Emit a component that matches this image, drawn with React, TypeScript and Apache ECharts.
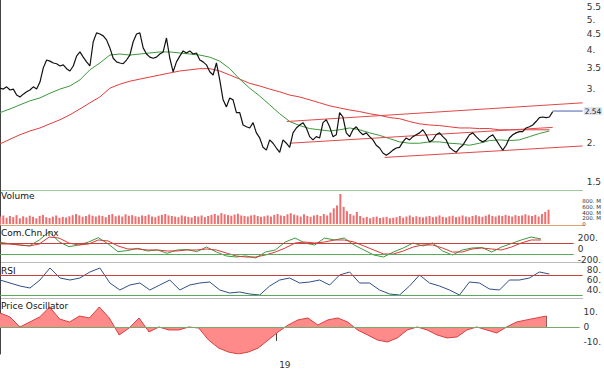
import React, { useEffect, useRef } from 'react';
import * as echarts from 'echarts';

// ---- data (bar index = one sample of the price line) ----
const closes = [3.01,2.99,3.04,2.97,2.99,2.86,2.82,2.88,2.93,2.97,
3.04,2.99,3.15,3.50,3.71,3.68,3.63,3.61,3.55,3.58,
3.48,3.42,3.55,3.82,3.94,3.79,3.66,3.55,4.25,4.54,
4.50,4.44,4.31,4.06,3.76,3.66,3.63,3.61,3.71,3.85,
4.25,4.50,4.54,4.06,3.88,3.79,3.76,3.79,3.88,3.94,
4.37,3.76,3.40,3.66,3.82,3.97,3.91,3.97,3.88,3.91,
3.71,3.66,3.58,3.40,3.32,3.63,3.20,2.76,2.62,2.80,
2.76,2.51,2.51,2.29,2.26,2.24,2.33,2.16,2.08,1.94,
1.90,2.05,2.00,1.93,1.87,2.05,2.00,1.94,2.16,2.24,
2.29,2.33,2.24,2.10,2.05,2.10,2.08,2.33,2.38,2.26,
2.10,2.13,2.51,2.43,2.16,2.10,2.21,2.26,2.18,2.13,
2.16,2.10,2.05,1.97,1.93,1.86,1.83,1.86,1.90,1.93,
1.94,2.02,2.08,2.05,2.10,2.13,2.16,2.21,2.13,2.02,
2.05,2.13,2.16,2.10,2.05,1.94,1.90,1.87,1.93,1.97,
2.05,2.13,2.16,2.10,2.05,2.02,2.05,2.10,2.13,2.05,
1.97,1.90,1.97,2.08,2.13,2.16,2.18,2.18,2.24,2.26,
2.29,2.35,2.42,2.43,2.42,2.43,2.53];

const volumeM = [260,300,220,280,240,310,200,270,230,290,
250,200,280,320,240,210,260,300,220,250,
230,270,310,350,300,250,280,330,290,260,
300,280,240,320,350,270,300,260,340,290,
310,270,250,300,280,330,260,240,290,320,
350,300,280,260,240,300,270,250,230,280,
260,300,240,280,320,350,300,380,340,310,
290,330,360,300,280,260,300,320,280,250,
270,300,260,320,350,300,280,340,380,330,
300,260,340,280,250,300,320,280,350,300,
400,550,650,1050,600,450,350,300,420,280,
220,250,200,240,260,210,230,250,200,220,
240,280,220,260,300,240,270,250,230,260,
280,240,260,300,250,230,270,290,240,260,
300,260,240,280,310,270,250,290,330,280,
260,300,280,320,290,260,310,280,300,340,
300,280,320,260,350,420,500];

// indicators sampled every STEP bars
const STEP = 3;
const maShort = [2.51,2.58,2.66,2.74,2.80,2.90,2.99,3.06,3.20,3.45,
3.63,3.85,3.88,3.85,3.88,3.91,3.94,3.94,3.91,3.88,
3.85,3.79,3.68,3.48,3.22,3.01,2.84,2.66,2.49,2.35,
2.28,2.23,2.21,2.19,2.21,2.24,2.21,2.16,2.12,2.07,
2.02,2.00,2.00,2.02,2.02,2.00,1.99,1.97,2.00,2.04,
2.05,2.04,2.05,2.10,2.15,2.19];
const maLong = [1.99,2.06,2.13,2.19,2.24,2.31,2.38,2.47,2.58,2.70,
2.82,3.01,3.10,3.17,3.22,3.27,3.32,3.37,3.42,3.45,
3.48,3.48,3.42,3.32,3.22,3.12,3.06,2.99,2.93,2.86,
2.82,2.76,2.70,2.64,2.60,2.56,2.53,2.49,2.46,2.42,
2.40,2.35,2.31,2.29,2.28,2.26,2.24,2.24,2.23,2.23,
2.21,2.21,2.21,2.21,2.21,2.21];
const cciFast = [122,95,73,58,164,315,133,42,73,127,
206,91,-49,-27,13,-36,-18,-78,-18,-9,
-49,36,-55,-127,-146,-127,-164,-55,-18,127,
200,109,73,200,164,200,73,-18,-109,-146,
-55,18,109,55,109,-36,-109,-18,18,27,
-55,36,100,164,218,182];
const cciSlow = [91,91,73,55,91,218,200,109,73,91,
164,146,55,0,0,-18,-18,-36,-36,-18,
-18,0,-18,-73,-127,-146,-146,-109,-55,18,
109,127,109,127,164,164,127,55,-18,-91,
-91,-36,36,73,73,18,-55,-55,0,18,
0,-18,36,109,164,164];
const rsi = [60,54,48,44,60,84,64,60,64,76,
84,54,40,50,54,40,50,60,40,50,
54,56,40,34,36,32,30,48,60,64,
54,56,60,50,70,76,54,54,40,32,
30,48,70,54,48,40,30,56,54,42,
40,60,60,64,76,72];
const priceOsc = [9.3,6.7,0,3.3,6.7,13.3,5.3,3.3,7.3,6,
13.3,6,-5.3,-0.7,6,-3.3,0,-2,-2,0,
-0.7,-8.7,-14,-16.7,-18,-16.7,-14,-8.7,-3.3,1.3,
4.7,6,1.3,4.7,6,3.3,-2,-5.3,-8.7,-10,
-7.3,-2,0,-2,-5.3,-7.3,-6.7,-2,0,-2,
-4,0,3.3,4.7,6,7.3];

// trend channel lines [barIndex, price]
const channelTop = [[86.1, 2.35], [175, 2.70]];
const channelMid = [[87, 2.0], [166, 2.25]];
const channelLow = [[115.5, 1.80], [175, 1.96]];
const lastPrice = 2.54;
const lastLine = [[166, lastPrice], [175, lastPrice]];

const priceTicks = [1.5, 2, 2.5, 3, 3.5, 4, 4.5, 5, 5.5];
const priceLabels = [1.5, 2, 3, 3.5, 4, 4.5, 5, 5.5];
const volTicks = [0, 200, 400, 600, 800];
const volLabelsA = [0, 400, 800];
const volLabelsB = [200, 600];
const cciTicks = [-200, 0, 200];
const rsiTicks = [40, 60, 80];
const poTicks = [-10, 0, 10];
const yearTicks = [{ at: 83.4, label: '19' }];

const X_MAX = 175;
const VOL_MAX = 1190;
const FONT = 'DejaVu Sans';

const fmtNum = (v: number) => (Math.abs(v) < 1e-9 ? '0' : Number.isInteger(v) ? `${v}.` : `${v}`);
const fmtVol = (v: number) => (v === 0 ? '0' : `${v}. M`);

function yAxis(gi: number, min: number, max: number, ticks: number[], labels: number[], fmt: (v: number) => string, fontSize = 9, showLine = true, lineHeight?: number) {
  return {
    type: 'value', gridIndex: gi, position: 'right', min, max,
    splitLine: { show: false },
    axisLine: { show: showLine, lineStyle: { color: '#444', width: 1 } },
    axisTick: { show: ticks.length > 0, inside: true, length: 4, customValues: ticks, lineStyle: { color: '#444' } },
    axisLabel: {
      show: true, customValues: labels, formatter: fmt, fontSize, lineHeight, color: '#333', margin: 4,
      fontFamily: FONT, showMinLabel: true, showMaxLabel: true, hideOverlap: false,
    },
  };
}

function xAxis(gi: number, visible: boolean) {
  return {
    type: 'value', gridIndex: gi, min: 0, max: X_MAX, show: visible,
    splitLine: { show: false },
    axisLine: { show: visible, lineStyle: { color: '#bbb' } },
    axisTick: { show: visible, length: 14, customValues: yearTicks.map(t => t.at), lineStyle: { color: '#444' } },
    axisLabel: {
      show: visible, customValues: yearTicks.map(t => t.at),
      formatter: (v: number) => (yearTicks.find(t => Math.abs(t.at - v) < 0.01) || { label: '' }).label,
      fontSize: 9, color: '#333', fontFamily: FONT, align: 'left', margin: 6, padding: [0, 0, 0, 3],
    },
  };
}

const ln = Math.log;
const sampled = (arr: number[], f: (v: number) => number = v => v) => arr.map((v, k) => [k * STEP, f(v)]);
const refLines = (items: { v: number; c: string }[]) => ({
  silent: true, symbol: 'none', label: { show: false },
  lineStyle: { width: 1, type: 'solid' },
  data: items.map(it => ({ yAxis: it.v, lineStyle: { color: it.c, width: 1, type: 'solid' } })),
});

const lineS = (name: string, xi: number, data: any[], color: string, width = 1, extra: any = {}) => ({
  name, type: 'line', xAxisIndex: xi, yAxisIndex: xi, data, showSymbol: false, symbol: 'none',
  lineStyle: { color, width }, itemStyle: { color }, ...extra,
});

const option: any = {
  animation: false,
  backgroundColor: '#fff',
  title: [
    { text: 'Volume', top: 191 },
    { text: 'Com.Chn.Inx', top: 228 },
    { text: 'RSI', top: 266 },
    { text: 'Price Oscillator', top: 301 },
  ].map(t => ({ ...t, left: 1, padding: 0, textStyle: { fontSize: 9, fontWeight: 'normal', color: '#111', fontFamily: FONT } })),
  grid: [
    { left: 0, right: 21, top: 0, height: 190 },
    { left: 0, right: 21, top: 190, height: 34 },
    { left: 0, right: 21, top: 226, height: 36 },
    { left: 0, right: 21, top: 262, height: 36 },
    { left: 0, right: 21, top: 298, height: 56 },
  ],
  xAxis: [xAxis(0, false), xAxis(1, false), xAxis(2, false), xAxis(3, false), xAxis(4, true)],
  yAxis: [
    yAxis(0, ln(1.413), ln(5.795), priceTicks.map(ln), priceLabels.map(ln), v => {
      const p = Math.round(Math.exp(v) * 2) / 2;
      return fmtNum(p);
    }),
    yAxis(1, 0, VOL_MAX, volTicks, volLabelsA, fmtVol, 5.5, true, 5),
    yAxis(2, -237, 419, cciTicks, cciTicks, fmtNum),
    yAxis(3, 24, 96, rsiTicks, rsiTicks, fmtNum),
    yAxis(4, -18, 19.3, poTicks, poTicks, fmtNum),
    yAxis(1, 0, VOL_MAX, [], volLabelsB, fmtVol, 5.5, false, 5),
  ],
  graphic: [
    { type: 'line', shape: { x1: 0, y1: 190.5, x2: 583, y2: 190.5 }, style: { stroke: '#9ccc9c', lineWidth: 1 } },
    { type: 'line', shape: { x1: 0, y1: 225.5, x2: 583, y2: 225.5 }, style: { stroke: '#e0a070', lineWidth: 1 } },
    { type: 'line', shape: { x1: 0, y1: 262.5, x2: 583, y2: 262.5 }, style: { stroke: '#bbbbbb', lineWidth: 1 } },
    { type: 'line', shape: { x1: 0, y1: 298.5, x2: 583, y2: 298.5 }, style: { stroke: '#bbbbbb', lineWidth: 1 } },
  ],
  series: [
    lineS('MA long', 0, sampled(maLong, ln), '#e03c3c', 1),
    lineS('MA short', 0, sampled(maShort, ln), '#3c963c', 1),
    lineS('Channel top', 0, channelTop.map(p => [p[0], ln(p[1])]), '#e04848', 1),
    lineS('Channel mid', 0, channelMid.map(p => [p[0], ln(p[1])]), '#e04848', 1),
    lineS('Channel low', 0, channelLow.map(p => [p[0], ln(p[1])]), '#e04848', 1),
    lineS('Close', 0, closes.map((v, i) => [i, ln(v)]), '#111', 1.2),
    lineS('Last', 0, lastLine.map(p => [p[0], ln(p[1])]), '#4a5fb0', 1, {
      endLabel: { show: true, formatter: () => `${lastPrice}`, fontSize: 7.5, color: '#222', fontFamily: FONT,
        backgroundColor: '#dfe4ee', padding: [0, 1], distance: 1 },
    }),
    {
      name: 'Volume', type: 'bar', xAxisIndex: 1, yAxisIndex: 1, barWidth: 2,
      data: volumeM.map((v, i) => [i, v]), itemStyle: { color: '#ee6f6f' },
    },
    lineS('CCI', 2, sampled(cciFast), '#3c9a3c', 1, { markLine: refLines([{ v: 100, c: '#c84040' }, { v: -100, c: '#5aaa5a' }]) }),
    lineS('CCI signal', 2, sampled(cciSlow), '#d83838', 1),
    lineS('RSI', 3, sampled(rsi), '#2f4f86', 1, { markLine: refLines([{ v: 70, c: '#c84040' }, { v: 30, c: '#5aaa5a' }]) }),
    lineS('Price Osc', 4, sampled(priceOsc), '#d84040', 1, {
      areaStyle: { color: '#ff8a8a', opacity: 1 },
      markLine: refLines([{ v: 0, c: '#7aa86a' }]),
    }),
    {
      name: 'Price Osc bars', type: 'bar', xAxisIndex: 4, yAxisIndex: 4, barWidth: 1,
      data: sampled(priceOsc), itemStyle: { color: '#3a2020' },
    },
  ],
};

export default function App() {
  const ref = useRef<HTMLDivElement>(null);
  useEffect(() => {
    if (!ref.current) return;
    const chart = echarts.init(ref.current, null, { renderer: 'svg' });
    chart.setOption(option);
    return () => chart.dispose();
  }, []);
  return (
    <div
      ref={ref}
      style={{ position: 'fixed', left: 0, top: 0, width: 604, height: 370, background: '#fff' }}
    />
  );
}
